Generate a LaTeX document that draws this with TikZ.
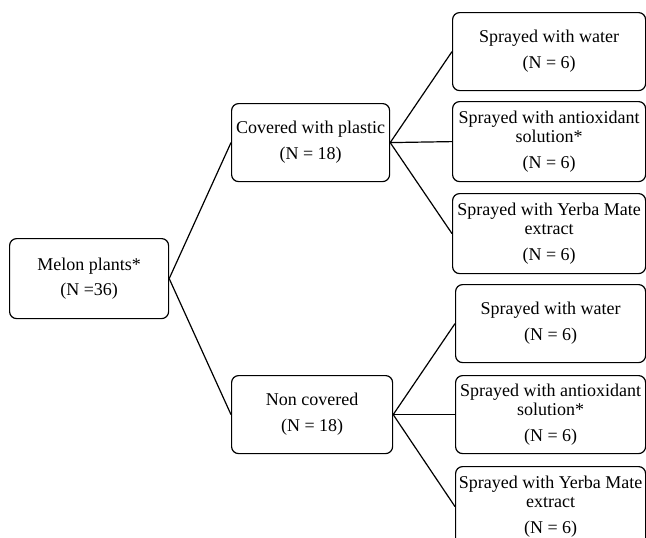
\documentclass[tikz,border=0pt]{standalone}
\usepackage{fontspec}
\setmainfont{Liberation Serif}
\begin{document}
\begin{tikzpicture}[x=1pt,y=-1pt,
  box/.style={draw=black, line width=1.2pt, rounded corners=7pt, anchor=north west,
    inner sep=0pt, align=center, font=\fontsize{18}{18.5}\selectfont},
  conn/.style={draw=black, line width=1.2pt}]
\useasboundingbox (0,0) rectangle (646,538);
\clip (0,0) rectangle (646,538);
\node[box, minimum width=159pt, minimum height=80pt] (root) at (9,238) {Melon plants*\\[6.5pt](N =36)};
\node[box, minimum width=158pt, minimum height=78pt] (cov) at (231,103) {Covered with plastic\\[7.5pt](N = 18)};
\node[box, minimum width=161pt, minimum height=78pt] (non) at (231,375) {Non covered\\[7.5pt](N = 18)};
\node[box, minimum width=193pt, minimum height=78pt] (a1) at (452,12) {Sprayed with water\\[7.5pt](N = 6)};
\node[box, minimum width=193pt, minimum height=80pt] (a2) at (452,101) {Sprayed with antioxidant\\solution*\\[7.5pt](N = 6)};
\node[box, minimum width=193pt, minimum height=80pt] (a3) at (452,193) {Sprayed with Yerba Mate\\extract\\[7.5pt](N = 6)};
\node[box, minimum width=190pt, minimum height=78pt] (b1) at (455,284) {Sprayed with water\\[7.5pt](N = 6)};
\node[box, minimum width=190pt, minimum height=78pt] (b2) at (455,375) {Sprayed with antioxidant\\solution*\\[7.5pt](N = 6)};
\node[box, minimum width=190pt, minimum height=80pt] (b3) at (455,466) {Sprayed with Yerba Mate\\extract\\[7.5pt](N = 6)};
\draw[conn] (root.east) -- (cov.west);
\draw[conn] (root.east) -- (non.west);
\draw[conn] (cov.east) -- (a1.west);
\draw[conn] (cov.east) -- (a2.west);
\draw[conn] (cov.east) -- (a3.west);
\draw[conn] (non.east) -- (b1.west);
\draw[conn] (non.east) -- (b2.west);
\draw[conn] (non.east) -- (b3.west);
\end{tikzpicture}
\end{document}
